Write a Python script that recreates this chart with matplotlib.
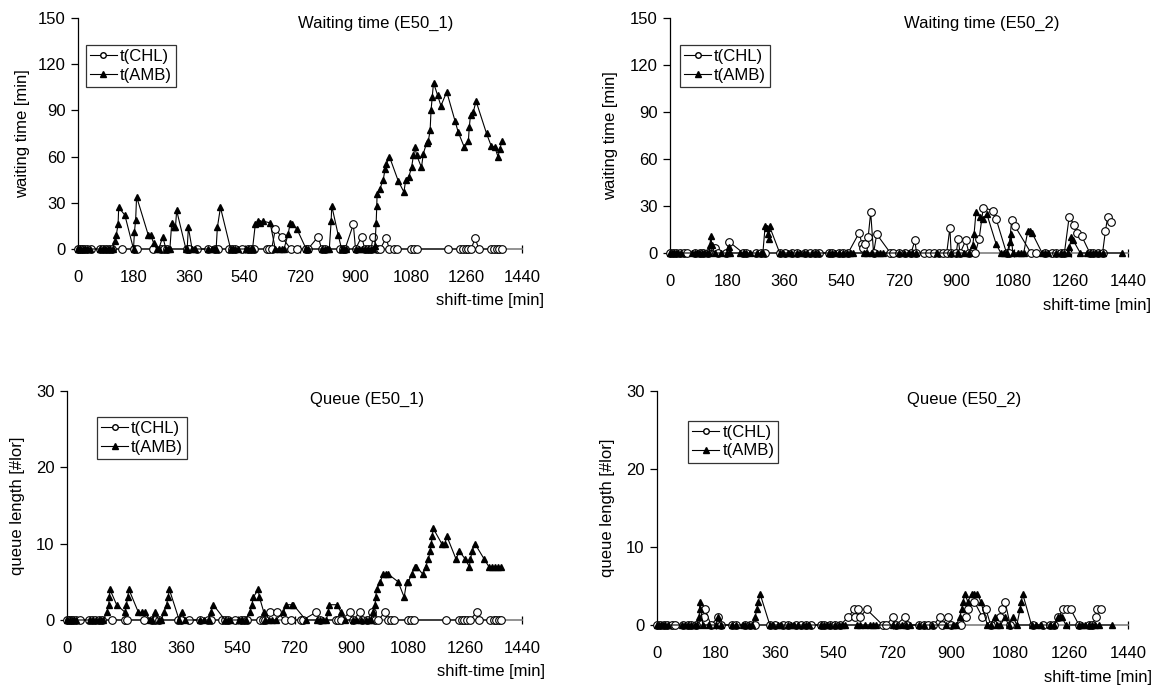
import matplotlib
matplotlib.use("Agg")
import matplotlib.pyplot as plt
from matplotlib.lines import Line2D

plt.rcParams["font.family"] = ["Liberation Sans", "DejaVu Sans"]
plt.rcParams["font.size"] = 12

# ── Data: (shift-time [min], value) ──────────────────────────────────────────
X_TICKS = [0, 180, 360, 540, 720, 900, 1080, 1260, 1440]
WAIT_TICKS = [0, 30, 60, 90, 120, 150]
QUEUE_TICKS = [0, 10, 20, 30]

wait1_chl = [(0, 0), (6, 0), (12, 0), (18, 0), (28, 0), (42, 0), (70, 0), (80, 0), (90, 0), (100, 0),
             (110, 0), (142, 0), (183, 0), (190, 0), (243, 0), (270, 0), (280, 0), (290, 0), (352, 0),
             (360, 0), (385, 0), (420, 0), (445, 0), (455, 0), (490, 0), (500, 0), (510, 0), (533, 0),
             (552, 0), (560, 0), (570, 0), (612, 0), (620, 0), (628, 0), (640, 13), (660, 8), (690, 0),
             (710, 0), (740, 0), (746, 0), (779, 8), (790, 0), (800, 0), (850, 0), (858, 0), (866, 0),
             (893, 16), (900, 0), (920, 8), (930, 0), (940, 0), (950, 0), (958, 8), (970, 0), (980, 0),
             (999, 7), (1010, 0), (1025, 0), (1034, 0), (1080, 0), (1090, 0), (1099, 0), (1200, 0),
             (1240, 0), (1250, 0), (1258, 0), (1265, 0), (1275, 0), (1288, 7), (1300, 0), (1340, 0),
             (1350, 0), (1358, 0), (1366, 0), (1375, 0)]
wait1_amb = [(0, 0), (8, 0), (15, 0), (22, 0), (30, 0), (38, 0), (72, 0), (80, 0), (88, 0), (96, 0),
             (104, 0), (112, 0), (120, 5), (124, 9), (130, 16), (132, 27), (152, 22), (180, 0), (183, 11),
             (187, 19), (190, 34), (228, 9), (236, 9), (245, 4), (255, 0), (262, 0), (275, 8), (285, 0),
             (292, 0), (298, 0), (304, 17), (312, 14), (316, 14), (320, 25), (350, 0), (354, 0), (358, 14),
             (370, 0), (378, 0), (420, 0), (436, 0), (442, 0), (448, 0), (452, 14), (462, 27), (495, 0),
             (502, 0), (510, 0), (518, 0), (545, 0), (552, 0), (560, 0), (566, 0), (575, 16), (585, 18),
             (590, 17), (601, 18), (623, 17), (640, 0), (652, 0), (660, 0), (668, 0), (682, 10), (688, 17),
             (694, 16), (710, 13), (740, 0), (746, 0), (790, 0), (800, 0), (808, 0), (815, 0), (821, 18),
             (823, 28), (844, 9), (855, 0), (862, 0), (870, 0), (900, 0), (910, 0), (920, 0), (930, 0),
             (940, 0), (950, 0), (958, 0), (963, 2), (967, 17), (969, 28), (970, 36), (979, 39), (990, 45),
             (996, 52), (1000, 55), (1010, 60), (1039, 44), (1057, 37), (1063, 45), (1073, 47), (1082, 53),
             (1088, 61), (1093, 66), (1098, 61), (1114, 53), (1120, 62), (1131, 69), (1136, 70), (1142, 77),
             (1145, 90), (1149, 99), (1153, 108), (1166, 100), (1177, 93), (1196, 102), (1223, 83),
             (1233, 76), (1253, 66), (1266, 70), (1269, 79), (1273, 87), (1282, 89), (1291, 96), (1325, 75),
             (1340, 67), (1352, 66), (1362, 60), (1368, 65), (1375, 70)]

wait2_chl = [(0, 0), (10, 0), (20, 0), (30, 0), (45, 0), (55, 0), (80, 0), (95, 0), (105, 0), (120, 0),
             (141, 3), (150, 0), (175, 0), (187, 7), (230, 0), (240, 0), (270, 0), (285, 0), (300, 0),
             (345, 0), (360, 0), (385, 0), (400, 0), (425, 0), (440, 0), (455, 0), (470, 0), (500, 0),
             (510, 0), (530, 0), (545, 0), (560, 0), (595, 13), (603, 6), (608, 3), (612, 6), (623, 10),
             (631, 26), (640, 0), (650, 12), (693, 0), (700, 0), (720, 0), (740, 0), (758, 0), (770, 8),
             (775, 0), (800, 0), (815, 0), (830, 0), (845, 0), (858, 0), (870, 0), (880, 16), (884, 0),
             (900, 0), (906, 9), (912, 0), (930, 8), (940, 0), (960, 0), (972, 9), (985, 29), (1016, 27),
             (1025, 22), (1058, 0), (1065, 0), (1074, 21), (1085, 17), (1135, 0), (1150, 0), (1180, 0),
             (1200, 0), (1215, 0), (1230, 0), (1240, 0), (1255, 23), (1271, 18), (1280, 13), (1294, 11),
             (1320, 0), (1330, 0), (1345, 0), (1360, 0), (1369, 14), (1376, 23), (1386, 20)]
wait2_amb = [(0, 0), (6, 0), (12, 0), (18, 0), (25, 0), (35, 0), (70, 0), (78, 0), (85, 0), (92, 0),
             (100, 0), (108, 0), (115, 0), (122, 0), (126, 5), (128, 11), (132, 5), (140, 0), (160, 0),
             (180, 0), (186, 4), (190, 0), (220, 0), (232, 0), (240, 0), (250, 0), (275, 0), (285, 0),
             (292, 0), (299, 17), (305, 16), (309, 12), (311, 9), (313, 17), (345, 0), (355, 0), (370, 0),
             (380, 0), (400, 0), (410, 0), (420, 0), (432, 0), (445, 0), (455, 0), (465, 0), (500, 0),
             (510, 0), (520, 0), (530, 0), (545, 0), (555, 0), (565, 0), (575, 0), (610, 0), (620, 0),
             (635, 0), (650, 0), (660, 0), (670, 0), (720, 0), (735, 0), (750, 0), (760, 0), (775, 0),
             (840, 0), (885, 0), (905, 0), (925, 0), (940, 0), (952, 5), (956, 12), (962, 26), (975, 23),
             (985, 22), (996, 25), (1025, 6), (1040, 0), (1050, 0), (1060, 0), (1068, 7), (1072, 12),
             (1078, 0), (1095, 0), (1105, 0), (1112, 0), (1125, 14), (1132, 14), (1138, 13), (1170, 0),
             (1180, 0), (1190, 0), (1215, 0), (1230, 0), (1240, 0), (1250, 0), (1256, 4), (1262, 10),
             (1268, 8), (1290, 0), (1310, 0), (1320, 0), (1330, 0), (1340, 0), (1350, 0), (1360, 0),
             (1420, 0)]

queue1_chl = [(0, 0), (6, 0), (12, 0), (18, 0), (28, 0), (42, 0), (70, 0), (80, 0), (90, 0), (100, 0),
              (110, 0), (142, 0), (183, 0), (190, 0), (243, 0), (270, 0), (280, 0), (290, 0), (352, 0),
              (360, 0), (385, 0), (420, 0), (445, 0), (455, 0), (490, 0), (500, 0), (510, 0), (533, 0),
              (552, 0), (560, 0), (570, 0), (612, 0), (620, 0), (628, 0), (642, 1), (664, 1), (690, 0),
              (710, 0), (740, 0), (746, 0), (788, 1), (800, 0), (850, 0), (858, 0), (866, 0), (896, 1),
              (905, 0), (927, 1), (935, 0), (950, 0), (964, 1), (975, 0), (985, 0), (1006, 1), (1015, 0),
              (1025, 0), (1034, 0), (1080, 0), (1090, 0), (1099, 0), (1200, 0), (1240, 0), (1250, 0),
              (1258, 0), (1265, 0), (1275, 0), (1297, 1), (1305, 0), (1340, 0), (1350, 0), (1358, 0),
              (1366, 0), (1375, 0)]
queue1_amb = [(0, 0), (8, 0), (15, 0), (22, 0), (30, 0), (73, 0), (82, 0), (92, 0), (100, 0), (108, 0),
              (115, 0), (126, 1), (132, 2), (134, 3), (136, 4), (157, 2), (184, 1), (188, 2), (192, 3),
              (196, 4), (226, 1), (236, 1), (247, 1), (262, 0), (270, 0), (279, 1), (290, 0), (298, 0),
              (307, 1), (315, 2), (320, 3), (324, 4), (355, 0), (363, 1), (375, 0), (420, 0), (435, 0),
              (448, 0), (455, 1), (463, 2), (500, 0), (508, 0), (515, 0), (545, 0), (555, 0), (565, 0),
              (579, 1), (585, 2), (590, 3), (605, 4), (609, 3), (623, 1), (628, 0), (640, 0), (650, 0),
              (660, 0), (685, 1), (693, 2), (711, 2), (716, 2), (756, 0), (790, 0), (800, 0), (810, 0),
              (820, 0), (827, 1), (830, 2), (853, 2), (868, 1), (880, 0), (905, 0), (915, 0), (930, 0),
              (945, 0), (955, 0), (962, 0), (967, 1), (975, 2), (977, 3), (980, 4), (991, 5), (1001, 6),
              (1010, 6), (1017, 6), (1048, 5), (1067, 3), (1075, 5), (1080, 5), (1091, 6), (1101, 7),
              (1106, 7), (1126, 6), (1135, 7), (1144, 8), (1149, 9), (1153, 10), (1156, 11), (1159, 12),
              (1186, 10), (1196, 10), (1202, 11), (1231, 8), (1242, 9), (1260, 8), (1273, 7), (1277, 8),
              (1282, 9), (1291, 10), (1320, 8), (1335, 7), (1345, 7), (1355, 7), (1365, 7), (1375, 7)]

queue2_chl = [(0, 0), (10, 0), (20, 0), (30, 0), (45, 0), (55, 0), (80, 0), (95, 0), (105, 0), (120, 0),
              (145, 1), (147, 2), (165, 0), (187, 1), (195, 0), (230, 0), (240, 0), (270, 0), (285, 0),
              (300, 0), (345, 0), (360, 0), (385, 0), (400, 0), (425, 0), (440, 0), (455, 0), (470, 0),
              (500, 0), (510, 0), (530, 0), (545, 0), (560, 0), (585, 1), (602, 2), (605, 1), (615, 2),
              (620, 1), (641, 2), (690, 0), (700, 0), (722, 1), (730, 0), (758, 1), (765, 0), (800, 0),
              (815, 0), (830, 0), (845, 0), (865, 1), (870, 0), (890, 1), (900, 0), (930, 0), (945, 1),
              (950, 2), (970, 3), (995, 1), (1006, 2), (1020, 0), (1050, 1), (1054, 2), (1064, 3),
              (1080, 0), (1150, 0), (1180, 0), (1200, 0), (1215, 0), (1227, 1), (1242, 2), (1252, 2),
              (1265, 2), (1290, 0), (1320, 0), (1330, 0), (1342, 1), (1346, 2), (1356, 2)]
queue2_amb = [(0, 0), (6, 0), (12, 0), (18, 0), (25, 0), (35, 0), (75, 0), (85, 0), (95, 0), (105, 0),
              (115, 0), (122, 0), (129, 1), (130, 2), (131, 3), (140, 0), (160, 0), (180, 0), (187, 1),
              (195, 0), (230, 0), (240, 0), (262, 0), (270, 0), (280, 0), (290, 0), (300, 1), (305, 2),
              (310, 3), (315, 4), (345, 0), (355, 0), (370, 0), (380, 0), (400, 0), (410, 0), (420, 0),
              (432, 0), (445, 0), (455, 0), (465, 0), (500, 0), (510, 0), (520, 0), (530, 0), (545, 0),
              (555, 0), (565, 0), (575, 0), (610, 0), (620, 0), (635, 0), (650, 0), (660, 0), (670, 0),
              (720, 0), (735, 0), (750, 0), (760, 0), (775, 0), (800, 0), (815, 0), (840, 0), (885, 0),
              (905, 0), (915, 0), (926, 1), (931, 2), (936, 3), (941, 4), (950, 3), (962, 4), (970, 4),
              (979, 4), (990, 3), (1010, 0), (1020, 0), (1033, 1), (1040, 0), (1050, 0), (1064, 1),
              (1075, 0), (1089, 1), (1100, 0), (1110, 2), (1114, 3), (1118, 4), (1145, 0), (1160, 0),
              (1175, 0), (1200, 0), (1215, 0), (1227, 1), (1232, 1), (1238, 1), (1250, 0), (1290, 0),
              (1300, 0), (1310, 0), (1320, 0), (1330, 0), (1340, 0), (1350, 0), (1390, 0)]

W, H = 1158, 693
fig = plt.figure(figsize=(W / 100, H / 100), dpi=100)


def add_panel(left, right, top, bottom):
    """Axes placed by pixel edges of the plot area."""
    return fig.add_axes([left / W, 1 - bottom / H, (right - left) / W, (bottom - top) / H])


def draw_panel(ax, chl, amb, title, title_xy, ylabel, yticks, leg_anchor, ylab_x):
    t, v = zip(*chl)
    ax.plot(t, v, color="black", lw=0.8, marker="o", ms=5.5, mfc="white", mec="black",
            mew=0.8, clip_on=False, zorder=3)
    t, v = zip(*amb)
    ax.plot(t, v, color="black", lw=0.8, marker="^", ms=5, mfc="black", mec="black",
            clip_on=False, zorder=4)

    ax.set_xlim(0, 1440)
    ax.set_ylim(yticks[0], yticks[-1])
    ax.set_xticks(X_TICKS)
    ax.set_yticks(yticks)
    for s in ("top", "right"):
        ax.spines[s].set_visible(False)
    ax.spines["left"].set_linewidth(0.9)
    ax.spines["bottom"].set_color("#808080")
    ax.spines["bottom"].set_linewidth(1.2)
    ax.tick_params(axis="y", direction="out", length=5, width=0.9, pad=4)
    ax.tick_params(axis="x", direction="inout", length=6, width=0.9, pad=12)

    ax.text(title_xy[0], title_xy[1], title, transform=ax.transAxes, ha="center", va="center",
            fontsize=12)
    ax.text(1.05, -0.225, "shift-time [min]", transform=ax.transAxes, ha="right", va="center",
            fontsize=12)
    ax.set_ylabel(ylabel, fontsize=12)
    ax.yaxis.set_label_coords(ylab_x, 0.5)

    handles = [
        Line2D([], [], color="black", lw=0.8, marker="o", ms=4, mfc="white", mec="black"),
        Line2D([], [], color="black", lw=0.8, marker="^", ms=4, mfc="black", mec="black"),
    ]
    leg = ax.legend(handles, ["t(CHL)", "t(AMB)"], loc="upper left", bbox_to_anchor=leg_anchor,
                    borderaxespad=0, frameon=True, fancybox=False, fontsize=12,
                    handlelength=1.6, handletextpad=0.2, borderpad=0.25, labelspacing=0.2)
    leg.get_frame().set_edgecolor("black")
    leg.get_frame().set_linewidth(0.9)


ax1 = add_panel(78, 522, 18, 249)
draw_panel(ax1, wait1_chl, wait1_amb, "Waiting time (E50_1)", (0.67, 0.975), "waiting time [min]",
           WAIT_TICKS, (0.018, 0.883), -0.108)
ax2 = add_panel(670, 1128, 18, 253)
draw_panel(ax2, wait2_chl, wait2_amb, "Waiting time (E50_2)", (0.68, 0.975), "waiting time [min]",
           WAIT_TICKS, (0.022, 0.885), -0.113)
ax3 = add_panel(67, 522, 391, 620)
draw_panel(ax3, queue1_chl, queue1_amb, "Queue (E50_1)", (0.66, 0.963), "queue length [#lor]",
           QUEUE_TICKS, (0.066, 0.886), -0.092)
ax4 = add_panel(657, 1128, 391, 625)
draw_panel(ax4, queue2_chl, queue2_amb, "Queue (E50_2)", (0.652, 0.963), "queue length [#lor]",
           QUEUE_TICKS, (0.066, 0.872), -0.09)

fig.savefig("out.png", dpi=100)
